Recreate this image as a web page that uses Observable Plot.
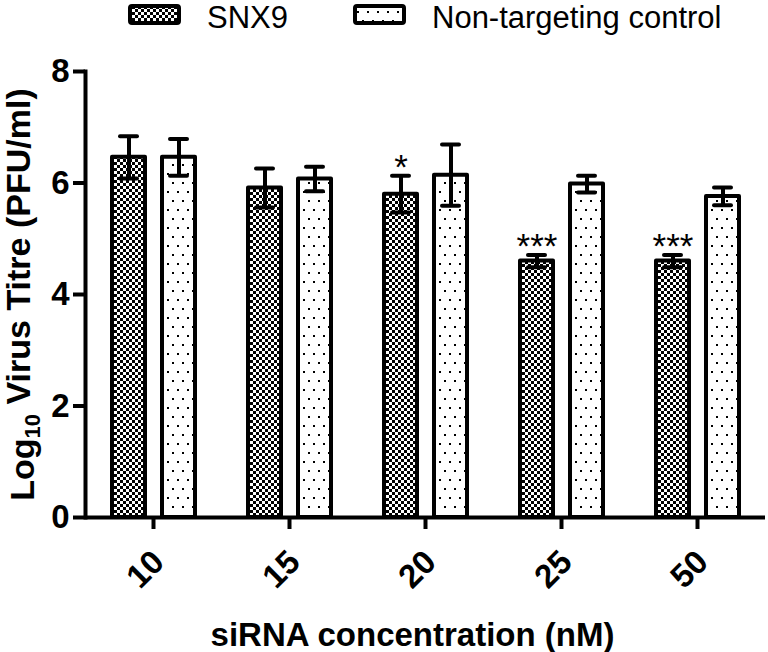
<!DOCTYPE html>
<html><head><meta charset="utf-8">
<script src="https://cdn.jsdelivr.net/npm/d3@7"></script>
<script src="https://cdn.jsdelivr.net/npm/@observablehq/plot@0.6"></script>
<style>
body{margin:0;background:#fff;}
#wrap{position:relative;width:768px;height:652px;}
#wrap svg{position:absolute;left:0;top:0;}
</style></head><body>
<svg width="0" height="0" style="position:absolute">
<defs>
<pattern id="checker" width="6" height="6" patternUnits="userSpaceOnUse"><rect width="6" height="6" fill="#fff"/><rect width="3" height="3" fill="#000"/><rect x="3" y="3" width="3" height="3" fill="#000"/></pattern>
<pattern id="dots" width="10" height="18" patternUnits="userSpaceOnUse"><rect width="10" height="18" fill="#fff"/><rect x="2" y="2" width="2" height="2" fill="#000"/><rect x="7" y="11" width="2" height="2" fill="#000"/></pattern>
</defs></svg>
<div id="wrap"></div>
<script>
const concentrations = ["10", "15", "20", "25", "50"];
const series = ["SNX9", "Non-targeting control"];
const snx9Mean = [6.46, 5.91, 5.80, 4.60, 4.60];
const snx9Err = [0.38, 0.35, 0.33, 0.11, 0.11];
const ctrlMean = [6.46, 6.07, 6.14, 5.98, 5.76];
const ctrlErr = [0.33, 0.22, 0.55, 0.15, 0.16];
const snx9Sig = ["", "", "*", "***", "***"];
const yTicks = [0, 2, 4, 6, 8];
const patterns = ["url(#checker)", "url(#dots)"];

const FONT = "Arial, 'Liberation Sans', sans-serif";

const data = concentrations.flatMap((c, i) => [
  {conc: c, series: series[0], mean: snx9Mean[i], err: snx9Err[i], sig: snx9Sig[i]},
  {conc: c, series: series[1], mean: ctrlMean[i], err: ctrlErr[i], sig: ""}
]);

const chart = Plot.plot({
  width: 768, height: 652,
  marginTop: 71, marginBottom: 135, marginLeft: 85, marginRight: 3,
  style: {fontFamily: FONT, color: "#000", background: "transparent", overflow: "visible"},
  fx: {domain: concentrations, padding: 0},
  x: {domain: series, paddingInner: 0.35, paddingOuter: 0.52, axis: null},
  y: {domain: [0, 8]},
  marks: [
    ...series.map((s, k) => Plot.barY(data.filter(d => d.series === s), {
      fx: "conc", x: "series", y: "mean", fill: patterns[k], stroke: "#000", strokeWidth: 4, strokeLinejoin: "round"
    })),
    Plot.ruleX(data, {fx: "conc", x: "series", y1: d => d.mean - d.err, y2: d => d.mean + d.err, stroke: "#000", strokeWidth: 4}),
    Plot.tickY(data, {fx: "conc", x: "series", y: d => d.mean + d.err, stroke: "#000", strokeWidth: 4, strokeLinecap: "round", insetLeft: 8, insetRight: 8}),
    Plot.tickY(data, {fx: "conc", x: "series", y: d => d.mean - d.err, stroke: "#000", strokeWidth: 4, strokeLinecap: "round", insetLeft: 8, insetRight: 8}),
    Plot.text(data.filter(d => d.sig), {fx: "conc", x: "series", y: d => d.mean + d.err, text: "sig", fontSize: 35, lineAnchor: "middle", dy: -8, fill: "#000"}),
    Plot.ruleY([0], {stroke: "#000", strokeWidth: 4}),
    Plot.frame({anchor: "left", facetAnchor: "left", stroke: "#000", strokeWidth: 4}),
    Plot.axisY({ticks: yTicks, tickSize: 12, tickPadding: 4, stroke: "#000", strokeWidth: 4, fontSize: 33, fontWeight: "bold",
      label: "Log10 Virus Titre (PFU/ml)", labelAnchor: "center", labelOffset: 76}),
    Plot.axisFx({anchor: "bottom", tickSize: 12, tickPadding: 24, tickRotate: -45, stroke: "#000", strokeWidth: 4, fontSize: 33, fontWeight: "bold",
      label: "siRNA concentration (nM)", labelAnchor: "center", labelOffset: 128})
  ]
});

// text styling (font sizes, subscript)
const svg = d3.select(chart.tagName.toLowerCase() === "svg" ? chart : chart.querySelector("svg"));
svg.selectAll("[aria-label='y-axis tick label'], [aria-label='fx-axis tick label']")
  .attr("font-size", 33).attr("font-weight", "bold");
svg.selectAll("[aria-label='y-axis tick label'] text, [aria-label='fx-axis tick label'] text")
  .attr("font-size", 33).attr("font-weight", "bold");
svg.selectAll("[aria-label='fx-axis tick label']").each(function() {
  const g = d3.select(this);
  g.attr("transform", ((g.attr("transform") || "") + " translate(5,3)").trim());
});
svg.selectAll("[aria-label='y-axis label'] text").each(function() {
  const t = d3.select(this);
  t.attr("font-size", 34).attr("font-weight", "bold").text(null);
  t.append("tspan").text("Log");
  t.append("tspan").attr("font-size", 22).attr("dy", "0.3em").text("10");
  t.append("tspan").attr("dy", "-0.3em").text(" Virus Titre (PFU/ml)");
});
svg.selectAll("[aria-label='fx-axis label'] text").attr("font-size", 33).attr("font-weight", "bold").attr("dx", -13);

document.getElementById("wrap").appendChild(chart);

// legend
const lg = d3.select("#wrap").append("svg").attr("width", 768).attr("height", 40)
  .style("font-family", FONT);
const legendX = [128, 353];
series.forEach((s, k) => {
  lg.append("rect").attr("x", legendX[k] + 2).attr("y", 6).attr("width", 49).attr("height", 17)
    .attr("rx", 2).attr("fill", patterns[k]).attr("stroke", "#000").attr("stroke-width", 4);
  lg.append("text").attr("x", legendX[k] + 79).attr("y", 28).attr("font-size", 31).attr("fill", "#000").text(s);
});
</script>
</body></html>
